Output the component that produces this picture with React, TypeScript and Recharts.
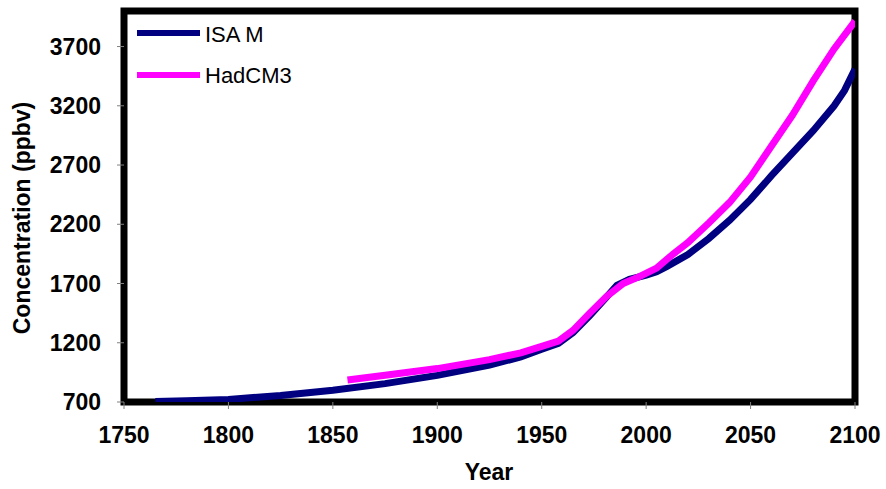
import React from 'react';
import { LineChart, Line, XAxis, YAxis, ReferenceArea, Customized } from 'recharts';

const isamYears = [1765, 1780, 1800, 1825, 1850, 1875, 1900, 1925, 1940, 1950, 1958, 1965, 1973, 1981, 1986, 1992, 2000, 2005, 2010, 2020, 2030, 2040, 2050, 2060, 2070, 2080, 2090, 2095, 2100];
const isamValues = [705, 710, 722, 755, 800, 855, 925, 1012, 1080, 1145, 1195, 1285, 1430, 1585, 1685, 1735, 1770, 1800, 1845, 1945, 2080, 2235, 2410, 2610, 2800, 2990, 3200, 3330, 3510];

const hadYears = [1857, 1875, 1900, 1925, 1940, 1950, 1958, 1965, 1973, 1981, 1989, 1997, 2005, 2013, 2020, 2030, 2040, 2050, 2060, 2070, 2080, 2090, 2100];
const hadValues = [885, 925, 982, 1058, 1115, 1170, 1215, 1305, 1450, 1590, 1700, 1760, 1830, 1950, 2045, 2210, 2385, 2600, 2860, 3120, 3410, 3680, 3915];

const xTicks = [1750, 1800, 1850, 1900, 1950, 2000, 2050, 2100];
const yTicks = [700, 1200, 1700, 2200, 2700, 3200, 3700];

const seriesNames = ['ISA M', 'HadCM3'];
const seriesColors = ['#000080', '#FF00FF'];

const allYears = Array.from(new Set([...isamYears, ...hadYears])).sort((a, b) => a - b);
const tableData = allYears.map((year) => {
  const i = isamYears.indexOf(year);
  const h = hadYears.indexOf(year);
  return {
    year,
    isam: i >= 0 ? isamValues[i] : null,
    had: h >= 0 ? hadValues[h] : null,
  };
});

const FONT = '"Liberation Sans", Arial, Helvetica, sans-serif';

const Overlay = () => (
  <g>
    {seriesNames.map((name, idx) => (
      <g key={name}>
        <line x1={137} x2={200} y1={33 + idx * 42} y2={33 + idx * 42} stroke={seriesColors[idx]} strokeWidth={6} />
        <text x={205} y={42 + idx * 41} fontFamily={FONT} fontSize={22} fill="#000">
          {name}
        </text>
      </g>
    ))}
    <text x={489} y={480} textAnchor="middle" fontFamily={FONT} fontSize={23} fontWeight="bold" fill="#000">
      Year
    </text>
    <text
      x={0}
      y={0}
      transform="translate(30,218) rotate(-90)"
      textAnchor="middle"
      fontFamily={FONT}
      fontSize={23}
      fontWeight="bold"
      fill="#000"
    >
      Concentration (ppbv)
    </text>
  </g>
);

export default function App() {
  return (
    <div style={{ position: 'absolute', left: 0, top: 0, width: 886, height: 489, background: '#fff' }}>
      <LineChart width={886} height={489} data={tableData} margin={{ top: 11, right: 31, bottom: 0, left: 4 }}>
        <XAxis
          dataKey="year"
          type="number"
          domain={[1750, 2100]}
          ticks={xTicks}
          axisLine={false}
          tickLine={{ stroke: '#808080' }}
          tickSize={7}
          tickMargin={18}
          height={87}
          tick={{ fontFamily: FONT, fontSize: 23, fontWeight: 'bold', fill: '#000' }}
          interval={0}
          allowDataOverflow
        />
        <YAxis
          type="number"
          domain={[700, 4000]}
          ticks={yTicks}
          axisLine={false}
          tickLine={{ stroke: '#808080' }}
          tickSize={7}
          tickMargin={16}
          width={120}
          tick={{ fontFamily: FONT, fontSize: 23, fontWeight: 'bold', fill: '#000' }}
          interval={0}
          allowDataOverflow
        />
        <ReferenceArea
          x1={1750}
          x2={2100}
          y1={700}
          y2={4000}
          fill="none"
          fillOpacity={0}
          stroke="#000"
          strokeWidth={7}
          ifOverflow="visible"
        />
        <Line
          type="linear"
          dataKey="isam"
          stroke={seriesColors[0]}
          strokeWidth={7}
          dot={false}
          connectNulls
          isAnimationActive={false}
        />
        <Line
          type="linear"
          dataKey="had"
          stroke={seriesColors[1]}
          strokeWidth={7}
          dot={false}
          connectNulls
          isAnimationActive={false}
        />
        <Customized component={Overlay} />
      </LineChart>
    </div>
  );
}
